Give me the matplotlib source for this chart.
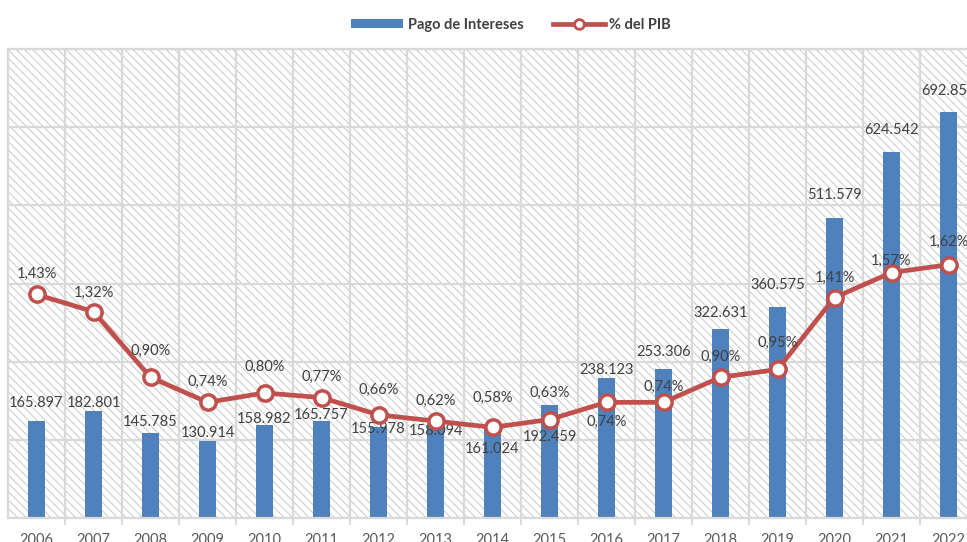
import numpy as np
import matplotlib
matplotlib.use("Agg")
import matplotlib.pyplot as plt
from matplotlib.patches import Rectangle, Patch
from matplotlib.lines import Line2D

plt.rcParams['font.family'] = ['Lato', 'DejaVu Sans']
plt.rcParams['hatch.linewidth'] = 0.75

years = ['2006', '2007', '2008', '2009', '2010', '2011', '2012', '2013', '2014',
         '2015', '2016', '2017', '2018', '2019', '2020', '2021', '2022']
intereses = [165.897, 182.801, 145.785, 130.914, 158.982, 165.757, 155.978, 158.094,
             161.024, 192.459, 238.123, 253.306, 322.631, 360.575, 511.579, 624.542, 692.853]
pct_pib = [1.43, 1.32, 0.90, 0.74, 0.80, 0.77, 0.66, 0.62, 0.58, 0.63, 0.74, 0.74,
           0.90, 0.95, 1.41, 1.57, 1.62]

# label offsets in pixels (negative = above the point), as placed in the original
bar_lbl_off = [-18, -8, -11, -8, -6, -6, 2, 6, 25, 32, -8, -17, -16, -22, -23, -22, -21]
pct_lbl_off = [-21, -19, -26, -20, -26, -21, -25, -20, -29, -27, 20, -15, -20, -27, -20, -12, -23]

blue = '#4F81BD'
red = '#C0504D'
grid_c = '#D9D9D9'
txt_c = '#404040'

fig = plt.figure(figsize=(9.67, 5.42), dpi=100)
W, H = 967, 542
ax = fig.add_axes([8 / W, (H - 518) / H, 969 / W, (518 - 49) / H])

x = np.arange(len(years))
ax.set_xlim(-0.5, len(years) - 0.5)
ax.set_ylim(0, 800)

# hatched background
ax.add_patch(Rectangle((0, 0), 1, 1, transform=ax.transAxes, facecolor='white',
                       edgecolor='#CCCCCC', hatch='\\\\\\\\', lw=0, zorder=0))

ax.set_axisbelow(True)
ax.set_yticks(np.linspace(0, 800, 7))
ax.set_xticks(x)
ax.set_xticks(x[:-1] + 0.5, minor=True)
ax.set_xticklabels(years, fontsize=10.5, color='#595959')
ax.tick_params(axis='x', which='major', length=0, pad=11)
ax.tick_params(axis='x', which='minor', length=5, width=1.4, color=grid_c)
ax.tick_params(axis='y', length=0, labelleft=False)
ax.grid(which='major', axis='y', color=grid_c, lw=1.6)
ax.grid(which='minor', axis='x', color=grid_c, lw=1.6)
for s in ax.spines.values():
    s.set_color(grid_c)
    s.set_linewidth(1.6)

bars = ax.bar(x, intereses, width=0.3, color=blue, zorder=1)
for xi, v, off in zip(x, intereses, bar_lbl_off):
    ax.annotate(f'{v:.3f}', (xi, v), xytext=(0, -off), textcoords='offset pixels',
                ha='center', va='center', fontsize=10.5, color=txt_c, zorder=3)

ax2 = ax.twinx()
ax2.set_ylim(0, 3.0)
ax2.axis('off')
ax2.plot(x, pct_pib, color=red, lw=3.4, marker='o', markersize=11,
         markerfacecolor='white', markeredgecolor=red, markeredgewidth=2.5, zorder=4)
for xi, v, off in zip(x, pct_pib, pct_lbl_off):
    ax2.annotate(f'{v:.2f}%'.replace('.', ','), (xi, v), xytext=(0, -off),
                 textcoords='offset pixels', ha='center', va='center',
                 fontsize=10.5, color=txt_c, zorder=5)

handles = [Patch(facecolor=blue, edgecolor='none'),
           Line2D([], [], color=red, lw=3.4, marker='o', markersize=7,
                  markerfacecolor='white', markeredgecolor=red, markeredgewidth=2)]
fig.legend(handles, ['Pago de Intereses', '% del PIB'], loc='center',
           bbox_to_anchor=(511 / W, 1 - 25 / H), ncol=2, frameon=False,
           prop={'weight': 'bold', 'size': 10.5}, labelcolor='#404040',
           handlelength=3.6, handleheight=0.6, handletextpad=0.3, columnspacing=2.0)

fig.savefig('out.png', dpi=100)
